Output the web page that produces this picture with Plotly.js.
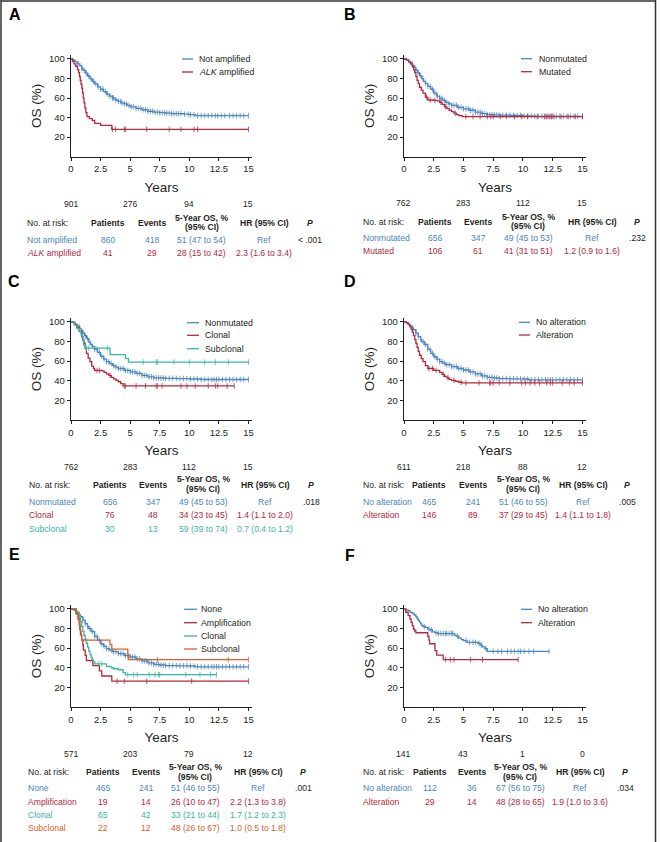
<!DOCTYPE html>
<html><head><meta charset="utf-8">
<script src="https://cdn.plot.ly/plotly-3.0.1.min.js"></script>
<style>html,body{margin:0;padding:0;background:#fff}#chart{width:660px;height:842px}</style>
</head><body><div id="chart"></div>
<script>
// ---------------- DATA ----------------
const xTickVals = [0, 2.5, 5, 7.5, 10, 12.5, 15];
const xTickText = ['0', '2.5', '5', '7.5', '10', '12.5', '15'];
const yTickVals = [20, 40, 60, 80, 100];
const riskTimes = [0, 5, 10, 15];
const panelLetters = ['A', 'B', 'C', 'D', 'E', 'F'];

// Panel A
const A_names = ['Not amplified', '<i>ALK</i> amplified'];
const A_notAmp_t = [0,0.1,0.2,0.3,0.4,0.5,0.6,0.75,0.9,1.0,1.2,1.4,1.6,1.8,2.0,2.25,2.5,2.75,3.0,3.25,3.5,3.75,4.0,4.25,4.5,4.75,5.0,5.5,6.0,6.5,7.0,7.5,8.0,8.5,9.5,10.0,10.5,15.0];
const A_notAmp_s = [100,99.5,99,98,97,96,95,93,90.5,88.5,85.5,82.5,79.5,77,74.5,71.5,69,66.5,64,62,60,58,56.5,55,54,52.5,51,49.5,48,46.5,45.5,45,44.5,44,43.5,43,42,42];
const A_notAmp_cens = [0.6,0.9,1.1,1.3,1.5,1.7,1.9,2.1,2.3,2.5,2.7,2.9,3.1,3.3,3.5,3.6,3.8,4.0,4.2,4.3,4.5,4.7,4.9,5.1,5.3,5.5,5.7,5.9,6.1,6.3,6.5,6.7,6.9,7.1,7.3,7.5,7.7,7.9,8.1,8.3,8.5,8.7,8.9,9.1,9.3,9.6,9.9,10.1,10.4,10.7,11.0,11.3,11.6,11.9,12.2,12.4,12.7,13.0,13.4,13.7,14.0,14.3,14.6,15.0];
const A_amp_t = [0,0.12,0.25,0.4,0.55,0.65,0.72,0.78,0.85,0.92,0.98,1.04,1.1,1.17,1.25,1.35,1.55,1.8,2.0,2.5,3.45,15];
const A_amp_s = [100,97.5,95,92.5,89,86,82,78,74,70,65,60,55,50,45,41,39,37,34,32,28,28];
const A_amp_cens = [3.5,3.75,4.5,4.6,6.4,8.3,9.3,10.4,10.7,15];
const A_risk = [901, 276, 94, 15];
const A_patients = [860, 41];
const A_events = [418, 29];
const A_os5 = ['51 (47 to 54)', '28 (15 to 42)'];
const A_hr = ['Ref', '2.3 (1.6 to 3.4)'];
const A_p = '< .001';

// Panel B
const B_names = ['Nonmutated', 'Mutated'];
const B_nonmut_t = [0,0.1,0.25,0.4,0.5,0.6,0.75,0.9,1.0,1.15,1.3,1.5,1.65,1.8,2.0,2.25,2.5,2.75,3.0,3.25,3.5,3.75,4.0,4.5,5.0,5.5,6.0,6.5,7.0,7.5,8.0,9.0,10.0,11.0,15];
const B_nonmut_s = [100,99.5,98.5,97,96,95,93,91,88.5,86,83,79.5,77,75,72,69,65,62,59.5,57.5,55.5,54,52.5,50.5,49,47.5,45.5,44,43,42.8,42.5,42.2,41.8,41.3,41.3];
const B_nonmut_cens = [0.7,1.0,1.2,1.4,1.6,1.8,2.0,2.2,2.4,2.6,2.8,3.0,3.2,3.4,3.6,3.8,4.0,4.2,4.4,4.6,4.8,5.0,5.2,5.4,5.6,5.8,6.0,6.2,6.4,6.6,6.8,7.0,7.2,7.4,7.6,7.8,8.0,8.3,8.6,8.9,9.2,9.5,9.8,10.1,10.4,10.7,11.0,11.3,11.6,11.9,12.1,12.3,12.5,12.8,13.1,13.4,13.7,14.0,14.3,14.6,15.0];
const B_mut_t = [0,0.2,0.4,0.55,0.7,0.8,0.9,1.0,1.1,1.2,1.3,1.45,1.6,1.8,2.0,2.5,2.8,3.0,3.2,3.4,3.6,3.8,4.0,4.2,4.4,4.6,4.9,15];
const B_mut_s = [100,99,97,95,92,89,86,82,78,75,71,68,65,61,58,57.5,57,55.5,53.5,51,49.5,47.5,46,44.5,43,42,41,41];
const B_mut_cens = [1.9,2.2,2.6,3.1,3.5,4.3,5.2,5.8,6.4,7.0,7.3,7.5,8.1,8.6,9.3,9.9,10.4,11.2,11.8,12.0,12.2,12.4,12.6,13.2,13.8,14.4,15.0];
const B_risk = [762, 283, 112, 15];
const B_patients = [656, 106];
const B_events = [347, 61];
const B_os5 = ['49 (45 to 53)', '41 (31 to 51)'];
const B_hr = ['Ref', '1.2 (0.9 to 1.6)'];
const B_p = '.232';

// Panel C
const C_names = ['Nonmutated', 'Clonal', 'Subclonal'];
const C_clonal_t = [0,0.3,0.5,0.7,0.9,1.0,1.1,1.2,1.3,1.45,1.6,1.75,1.9,2.0,2.6,2.8,3.0,3.2,3.4,3.6,3.8,4.0,4.2,4.4,13.8];
const C_clonal_s = [100,97.5,94.5,90.5,85,81.5,78,73,68,63,59.5,55,52.5,50.5,50,48.5,47,45.5,43.5,42,40.5,39,37,34.7,34.7];
const C_clonal_cens = [2.2,2.4,3.3,4.5,4.6,5.5,6.3,7.2,7.3,7.7,9.3,9.8,10.5,11.6,12.2,12.4,13.2,13.8];
const C_sub_t = [0,0.3,0.5,0.7,0.85,0.95,1.05,1.2,3.3,4.6,4.85,15];
const C_sub_s = [100,96.7,93.3,90,86.7,83.3,76.7,73.3,66.7,62.9,59.1,59.1];
const C_sub_cens = [1.3,1.5,3.1,6.1,7.2,7.3,8.7,10.0,11.3,12.2,13.3,15.0];
const C_risk = [762, 283, 112, 15];
const C_patients = [656, 76, 30];
const C_events = [347, 48, 13];
const C_os5 = ['49 (45 to 53)', '34 (23 to 45)', '59 (39 to 74)'];
const C_hr = ['Ref', '1.4 (1.1 to 2.0)', '0.7 (0.4 to 1.2)'];
const C_p = '.018';

// Panel D
const D_names = ['No alteration', 'Alteration'];
const D_noAlt_t = [0,0.1,0.25,0.4,0.5,0.65,0.8,1.0,1.2,1.4,1.5,1.7,2.0,2.25,2.5,2.75,3.0,3.25,3.5,4.0,4.5,5.0,5.5,6.0,6.5,7.0,7.5,8.0,9.0,10.0,10.5,15];
const D_noAlt_s = [100,99.5,98.5,97,96,94,92,88.5,85,82,80,77,72,68,64.5,62,59.5,58,56.5,54.5,52.5,51,49,47,45,43.5,42.8,42.2,42,41.8,41,41];
const D_noAlt_cens = [0.7,1.0,1.2,1.4,1.6,1.8,2.0,2.2,2.4,2.6,2.8,3.0,3.2,3.4,3.6,3.8,4.0,4.2,4.4,4.6,4.8,5.0,5.2,5.4,5.6,5.8,6.0,6.2,6.4,6.6,6.8,7.0,7.2,7.4,7.6,7.8,8.0,8.3,8.6,8.9,9.2,9.5,9.8,10.1,10.4,10.7,11.0,11.3,11.6,11.9,12.1,12.3,12.5,12.8,13.1,13.4,13.7,14.0,14.3,14.6,15.0];
const D_alt_t = [0,0.2,0.35,0.5,0.6,0.7,0.8,0.9,1.0,1.1,1.2,1.3,1.45,1.6,1.8,2.0,2.5,3.0,3.2,3.4,3.6,3.8,4.0,4.3,4.6,4.9,15];
const D_alt_s = [100,99,97.5,95,92.5,89.5,86,82,78,74,70,66,62.5,59.5,55.5,52.5,50.5,48.5,46.5,44.5,43,41.5,40.5,39.5,38.5,37.8,37.8];
const D_alt_cens = [2.1,2.4,2.7,3.3,3.7,4.2,4.8,5.2,6.3,7.2,7.3,7.5,8.0,8.9,9.9,10.2,10.6,11.0,11.4,12.0,12.3,12.5,13.3,13.9,14.3,15.0];
const D_risk = [611, 218, 88, 12];
const D_patients = [465, 146];
const D_events = [241, 89];
const D_os5 = ['51 (46 to 55)', '37 (29 to 45)'];
const D_hr = ['Ref', '1.4 (1.1 to 1.8)'];
const D_p = '.005';

// Panel E
const E_names = ['None', 'Amplification', 'Clonal', 'Subclonal'];
const E_amp_t = [0,0.45,0.6,0.7,0.75,0.8,0.9,1.0,1.05,1.2,1.3,1.85,2.4,2.6,3.45,15];
const E_amp_s = [100,94.7,89.5,84.2,78.9,73.7,68.4,63.2,57.9,52.6,47.4,42.1,36.8,31.6,26.3,26.3];
const E_amp_cens = [3.9,4.5,6.4,10.2,15];
const E_clonal_t = [0,0.3,0.5,0.65,0.8,0.9,1.0,1.1,1.2,1.3,1.4,1.5,1.6,1.7,1.8,1.9,2.0,2.9,3.0,3.4,3.6,4.0,4.4,4.6,12.3];
const E_clonal_s = [100,98.5,97,93,87,82,77,73,69,65,61,57,53.5,50.5,48,46,44,44,41.5,40,39,38,35,33,33];
const E_clonal_cens = [2.3,2.6,4.8,5.3,5.6,6.6,7.1,7.4,7.5,9.7,10.9,11.8,12.3];
const E_sub_t = [0,0.4,0.6,0.7,0.75,0.8,0.85,0.9,3.3,3.45,4.8,4.85,15];
const E_sub_s = [100,95.5,90.9,86.4,81.8,77.3,72.7,68.2,63.6,59.1,53.7,48.3,48.3];
const E_sub_cens = [7.3,13.3,15];
const E_risk = [571, 203, 79, 12];
const E_patients = [465, 19, 65, 22];
const E_events = [241, 14, 42, 12];
const E_os5 = ['51 (46 to 55)', '26 (10 to 47)', '33 (21 to 44)', '48 (26 to 67)'];
const E_hr = ['Ref', '2.2 (1.3 to 3.8)', '1.7 (1.2 to 2.3)', '1.0 (0.5 to 1.8)'];
const E_p = '.001';

// Panel F
const F_names = ['No alteration', 'Alteration'];
const F_noAlt_t = [0,0.15,0.35,0.5,0.7,0.85,1.0,1.1,1.2,1.3,1.4,1.5,1.6,1.8,2.0,2.2,2.4,2.6,2.8,4.25,4.4,4.6,4.8,5.0,5.3,6.2,6.4,6.6,6.8,7.0,12.2];
const F_noAlt_s = [100,99.1,98.2,96.4,95.5,93.8,92,90.2,88.4,86.6,84.8,83,82.1,81.2,79.4,78.5,76.7,75.8,74.9,73.1,72.2,70.4,68.6,67.7,65.9,65,63.1,61.3,59.4,56.7,56.7];
const F_noAlt_cens = [1.7,2.1,2.3,2.7,2.9,3.1,3.3,3.5,3.6,3.8,4.0,4.1,4.5,5.2,5.5,5.8,6.0,6.3,6.5,6.9,7.5,7.9,8.2,8.7,9.0,9.3,9.6,9.8,10.1,10.5,10.9,12.2];
const F_alt_t = [0,0.15,0.35,0.5,0.6,0.7,0.8,0.9,1.0,2.0,2.1,2.15,2.6,2.75,3.3,9.6];
const F_alt_s = [100,96.6,93.1,89.7,86.2,82.8,79.3,77.5,75.7,72,68.2,64.5,57.5,52.8,48.3,48.3];
const F_alt_cens = [3.5,3.9,4.2,5.6,6.6,9.6];
const F_risk = [141, 43, 1, 0];
const F_patients = [112, 29];
const F_events = [36, 14];
const F_os5 = ['67 (56 to 75)', '48 (28 to 65)'];
const F_hr = ['Ref', '1.9 (1.0 to 3.6)'];
const F_p = '.034';

// ---------------- STYLE / GEOMETRY ----------------
const W = 660, H = 842;
const BLUE = '#4a86bf', RED = '#b5283b', TEAL = '#3bb5a6', ORANGE = '#d6612c';
const INK = '#231f20';
const FONT = 'Liberation Sans, Arial, sans-serif';

const panels = [
  {names: A_names, colors: [BLUE, RED], curves: [[A_notAmp_t, A_notAmp_s, A_notAmp_cens], [A_amp_t, A_amp_s, A_amp_cens]],
   risk: A_risk, patients: A_patients, events: A_events, os5: A_os5, hr: A_hr, p: A_p},
  {names: B_names, colors: [BLUE, RED], curves: [[B_nonmut_t, B_nonmut_s, B_nonmut_cens], [B_mut_t, B_mut_s, B_mut_cens]],
   risk: B_risk, patients: B_patients, events: B_events, os5: B_os5, hr: B_hr, p: B_p},
  {names: C_names, colors: [BLUE, RED, TEAL], curves: [[B_nonmut_t, B_nonmut_s, B_nonmut_cens], [C_clonal_t, C_clonal_s, C_clonal_cens], [C_sub_t, C_sub_s, C_sub_cens]],
   risk: C_risk, patients: C_patients, events: C_events, os5: C_os5, hr: C_hr, p: C_p},
  {names: D_names, colors: [BLUE, RED], curves: [[D_noAlt_t, D_noAlt_s, D_noAlt_cens], [D_alt_t, D_alt_s, D_alt_cens]],
   risk: D_risk, patients: D_patients, events: D_events, os5: D_os5, hr: D_hr, p: D_p},
  {names: E_names, colors: [BLUE, RED, TEAL, ORANGE], curves: [[D_noAlt_t, D_noAlt_s, D_noAlt_cens], [E_amp_t, E_amp_s, E_amp_cens], [E_clonal_t, E_clonal_s, E_clonal_cens], [E_sub_t, E_sub_s, E_sub_cens]],
   risk: E_risk, patients: E_patients, events: E_events, os5: E_os5, hr: E_hr, p: E_p},
  {names: F_names, colors: [BLUE, RED], curves: [[F_noAlt_t, F_noAlt_s, F_noAlt_cens], [F_alt_t, F_alt_s, F_alt_cens]],
   risk: F_risk, patients: F_patients, events: F_events, os5: F_os5, hr: F_hr, p: F_p}
];

const colX = [[71, 252], [404, 586]];
const rowY = [[55, 156.7], [318, 420], [605, 707]];
const geom = [
  {col:0,row:0, letter:[14.5,15], leg:{lx:[182,193], tx:197, ys:[59,72]}, tab:{cols:[25,108,152,202,264,310], risk:204.3, head:222.7, os1:218.3, os2:227.3, rows:[240,252.7]}},
  {col:1,row:0, letter:[350,15], leg:{lx:[521,532], tx:537, ys:[58.7,71.7]}, tab:{cols:[361,435,478,528,592,637], risk:203.3, head:221.7, os1:216.9, os2:226.2, rows:[238.3,251]}},
  {col:0,row:1, letter:[14,281], leg:{lx:[187,199], tx:203, ys:[322.7,335.3,348.7]}, tab:{cols:[27,110,153,203,265,311], risk:466.7, head:484.7, os1:479.5, os2:489.3, rows:[502.3,515.3,528.7]}},
  {col:1,row:1, letter:[350,281], leg:{lx:[519,530], tx:534, ys:[322.3,335]}, tab:{cols:[361,429,473,523,583,627], risk:466.7, head:484.7, os1:479.5, os2:489.3, rows:[502.3,515.3]}},
  {col:0,row:2, letter:[14,554], leg:{lx:[184,197], tx:199, ys:[609.3,622.7,636,649]}, tab:{cols:[26,103,146,195,258,303], risk:754, head:772, os1:766.9, os2:777.2, rows:[788.3,801.7,815,827.7]}},
  {col:1,row:2, letter:[350,555], leg:{lx:[521,532], tx:536, ys:[609.3,622.7]}, tab:{cols:[361,430,472,520,580,625], risk:754, head:772.3, os1:767.3, os2:777.3, rows:[788.3,801.7]}}
];

const px = v => v / W;
const py = v => 1 - v / H;

function survAt(t, times, surv) {
  let v = surv[0];
  for (let i = 0; i < times.length; i++) { if (times[i] <= t) v = surv[i]; else break; }
  return v;
}

const traces = [];
const annotations = [];
const shapes = [];
const layout = {
  width: W, height: H,
  margin: {l: 0, r: 0, t: 0, b: 0},
  paper_bgcolor: '#fff', plot_bgcolor: 'rgba(0,0,0,0)',
  showlegend: false,
  font: {family: FONT, color: INK, size: 9},
  annotations: annotations, shapes: shapes
};

panels.forEach((p, i) => {
  const g = geom[i];
  const n = i + 1;
  const xa = n === 1 ? 'xaxis' : 'xaxis' + n;
  const ya = n === 1 ? 'yaxis' : 'yaxis' + n;
  const xr = n === 1 ? 'x' : 'x' + n;
  const yr = n === 1 ? 'y' : 'y' + n;
  const cx = colX[g.col], ry = rowY[g.row];
  layout[xa] = {
    domain: [px(cx[0]), px(cx[1])], range: [0, 15.3], anchor: yr,
    tickvals: xTickVals, ticktext: xTickText, ticks: 'outside', ticklen: 3, tickwidth: 1, tickcolor: INK,
    showline: true, linecolor: INK, linewidth: 1.2, showgrid: false, zeroline: false,
    tickfont: {size: 9.5, color: INK, family: FONT},
    title: {text: 'Years', font: {size: 13.5, color: INK, family: FONT}, standoff: 9}
  };
  layout[ya] = {
    domain: [py(ry[1]), py(ry[0])], range: [0, 104], anchor: xr,
    tickvals: yTickVals, ticks: 'outside', ticklen: 3, tickwidth: 1, tickcolor: INK,
    showline: true, linecolor: INK, linewidth: 1.2, showgrid: false, zeroline: false,
    tickfont: {size: 9.5, color: INK, family: FONT},
    title: {text: 'OS (%)', font: {size: 13.5, color: INK, family: FONT}, standoff: 4}
  };

  p.curves.forEach((c, k) => {
    const [t, s, cens] = c;
    traces.push({
      type: 'scatter', mode: 'lines', x: t, y: s, xaxis: xr, yaxis: yr,
      line: {shape: 'hv', color: p.colors[k], width: 1.3}, name: p.names[k], hoverinfo: 'skip'
    });
    traces.push({
      type: 'scatter', mode: 'markers', x: cens, y: cens.map(tt => survAt(tt, t, s)), xaxis: xr, yaxis: yr,
      marker: {symbol: 'line-ns', size: 4, line: {width: 0.9, color: p.colors[k]}, color: p.colors[k]},
      opacity: 0.85, name: p.names[k] + ' censored', hoverinfo: 'skip'
    });
  });

  // panel letter
  annotations.push({xref: 'paper', yref: 'paper', x: px(g.letter[0]), y: py(g.letter[1]), xanchor: 'center', yanchor: 'middle',
    text: '<b>' + panelLetters[i] + '</b>', showarrow: false, font: {size: 16, color: '#000', family: FONT}});

  // legend (short line + label)
  p.names.forEach((nm, k) => {
    shapes.push({type: 'line', xref: 'paper', yref: 'paper', x0: px(g.leg.lx[0]), x1: px(g.leg.lx[1]), y0: py(g.leg.ys[k]), y1: py(g.leg.ys[k]),
      line: {color: p.colors[k], width: 1.3}});
    annotations.push({xref: 'paper', yref: 'paper', x: px(g.leg.tx), y: py(g.leg.ys[k]), xanchor: 'left', yanchor: 'middle',
      text: nm, showarrow: false, font: {size: 8.8, color: INK, family: FONT}});
  });

  // number at risk
  p.risk.forEach((r, k) => {
    annotations.push({xref: xr, yref: 'paper', x: riskTimes[k], y: py(g.tab.risk), xanchor: 'center', yanchor: 'middle',
      text: String(r), showarrow: false, font: {size: 8.6, color: INK, family: FONT}});
  });

  // table header
  const tb = g.tab;
  const hdr = (x, y, text, anchor) => annotations.push({xref: 'paper', yref: 'paper', x: px(x), y: py(y), xanchor: anchor || 'center', yanchor: 'middle',
      text: text, showarrow: false, font: {size: 8.6, color: INK, family: FONT}});
  hdr(tb.cols[0], tb.head, 'No. at risk:', 'left');
  hdr(tb.cols[1], tb.head, '<b>Patients</b>');
  hdr(tb.cols[2], tb.head, '<b>Events</b>');
  hdr(tb.cols[3], tb.os1, '<b>5-Year OS, %</b>');
  hdr(tb.cols[3], tb.os2, '<b>(95% CI)</b>');
  hdr(tb.cols[4], tb.head, '<b>HR (95% CI)</b>');
  hdr(tb.cols[5], tb.head, '<b><i>P</i></b>');

  // table rows
  p.names.forEach((nm, k) => {
    const y = tb.rows[k];
    const col = p.colors[k];
    const cell = (x, text, anchor) => annotations.push({xref: 'paper', yref: 'paper', x: px(x), y: py(y), xanchor: anchor || 'center', yanchor: 'middle',
      text: text, showarrow: false, font: {size: 8.6, color: col, family: FONT}});
    cell(tb.cols[0], nm, 'left');
    cell(tb.cols[1], String(p.patients[k]));
    cell(tb.cols[2], String(p.events[k]));
    cell(tb.cols[3], p.os5[k]);
    cell(tb.cols[4], p.hr[k]);
  });
  annotations.push({xref: 'paper', yref: 'paper', x: px(tb.cols[5]), y: py(tb.rows[0]), xanchor: 'center', yanchor: 'middle',
    text: p.p, showarrow: false, font: {size: 8.6, color: INK, family: FONT}});
});

// outer frame
shapes.push({type: 'line', xref: 'paper', yref: 'paper', x0: px(1), x1: px(1), y0: 0, y1: 1, line: {color: '#333', width: 1.5}});
shapes.push({type: 'line', xref: 'paper', yref: 'paper', x0: px(1), x1: px(655.5), y0: py(1), y1: py(1), line: {color: '#333', width: 1.5}});
shapes.push({type: 'line', xref: 'paper', yref: 'paper', x0: px(655.5), x1: px(655.5), y0: 0, y1: 1, line: {color: '#333', width: 1.5}});

Plotly.newPlot('chart', traces, layout, {staticPlot: true, displayModeBar: false});
</script></body></html>
